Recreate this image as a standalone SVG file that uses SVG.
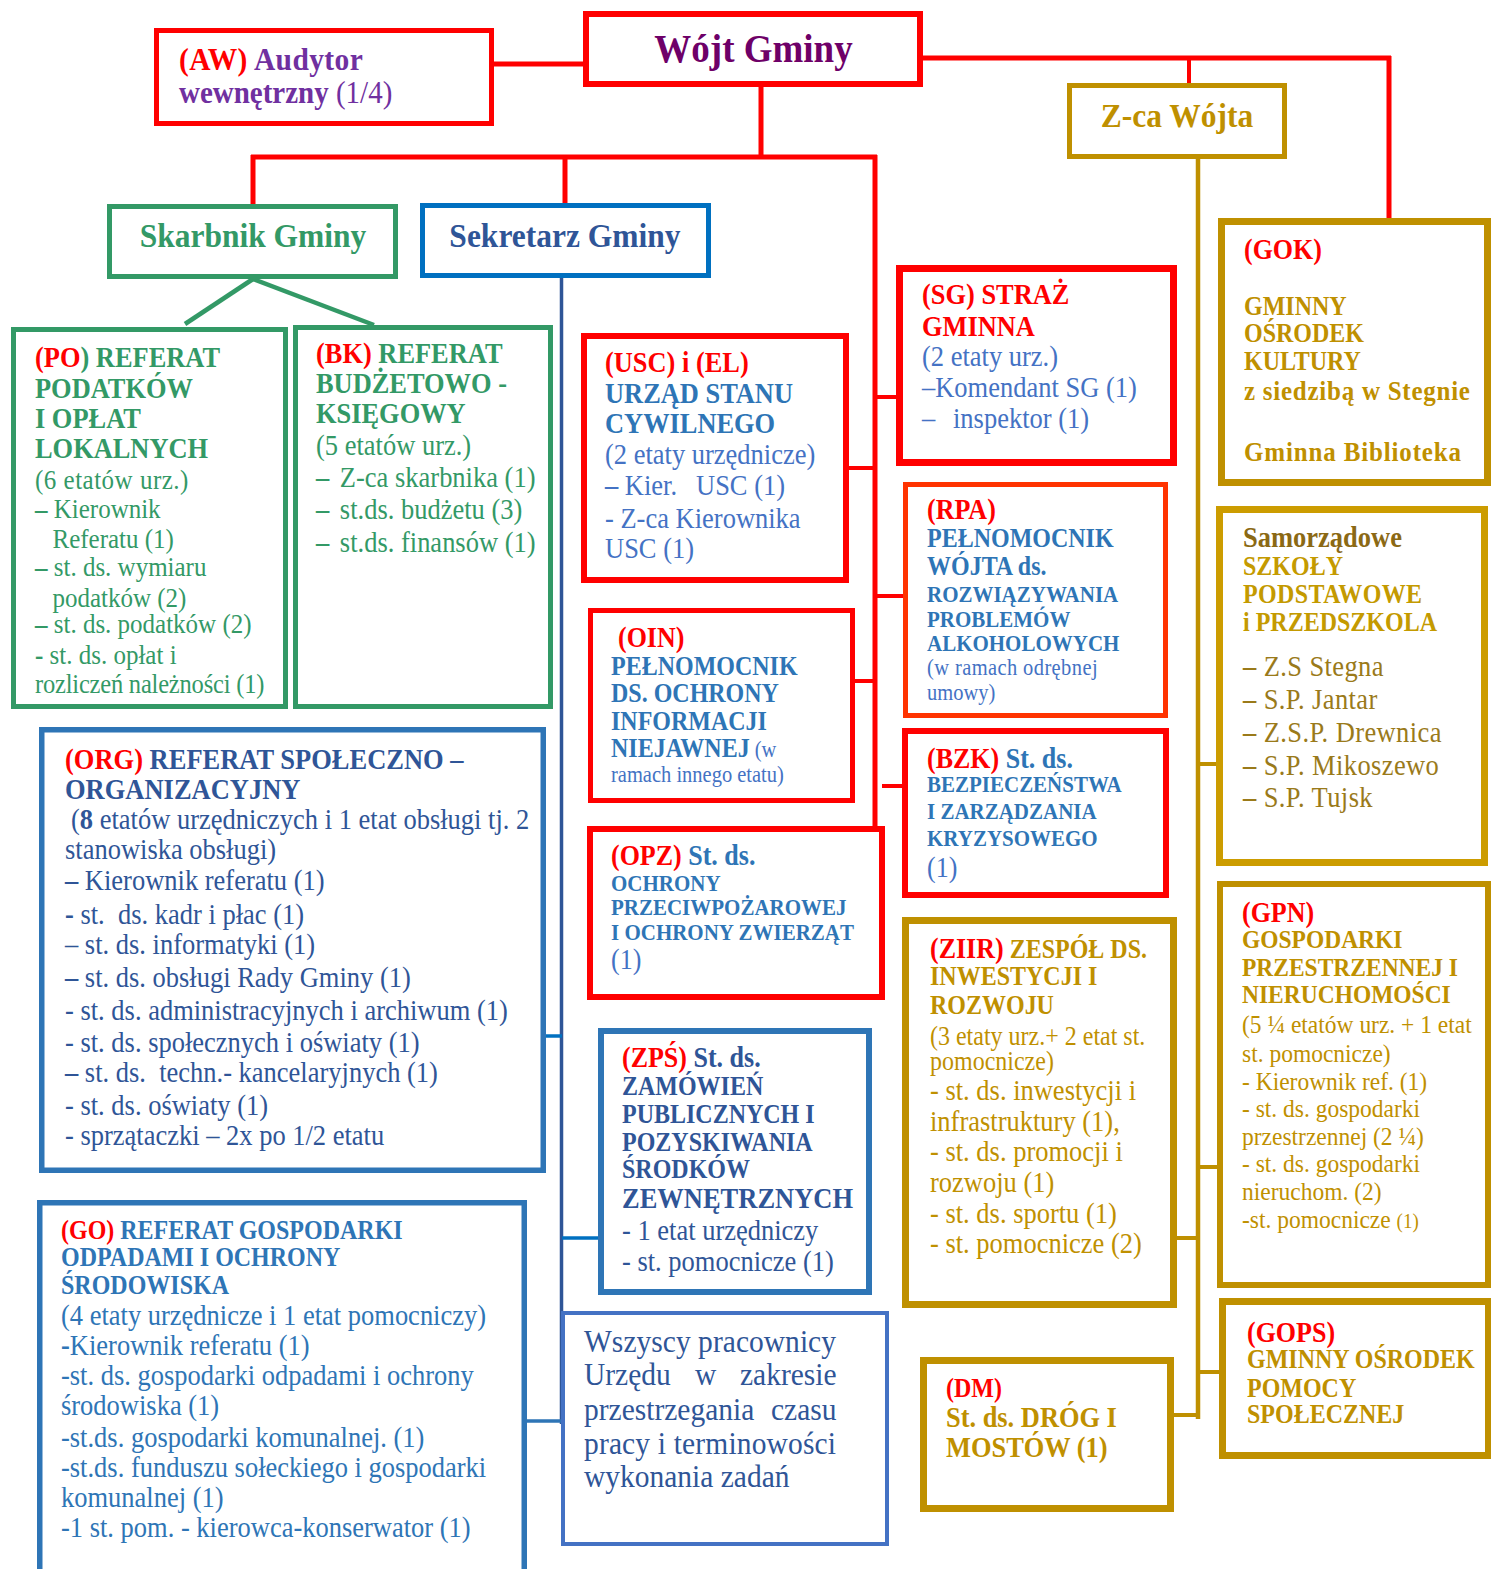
<svg xmlns="http://www.w3.org/2000/svg" width="1491" height="1569" viewBox="0 0 1491 1569">
<style>
text{font-family:"Liberation Serif","Times New Roman",serif;white-space:pre}
.b{font-weight:700}
.n{font-weight:400}
.rd{fill:#FF0000}
.box{fill:#fff}
.kr{stroke:#FF0000}
.kg{stroke:#339966}
.kb{stroke:#2E75B6}
.ky{stroke:#BF9000}
.cn{fill:none;stroke-linecap:butt}
</style>
<rect width="1491" height="1569" fill="#fff"/>
<g id="connectors" class="cn">
<g stroke="#FF0000" stroke-width="5">
<line x1="494" y1="64" x2="584" y2="64"/>
<line x1="922" y1="58" x2="1391" y2="58"/>
<line x1="1389" y1="56" x2="1389" y2="219"/>
<line x1="1189" y1="58" x2="1189" y2="84" stroke-width="4"/>
<line x1="761" y1="86" x2="761" y2="157"/>
<line x1="251" y1="157" x2="877" y2="157"/>
<line x1="253" y1="155" x2="253" y2="205"/>
<line x1="565" y1="157" x2="565" y2="204"/>
<line x1="875" y1="155" x2="875" y2="827"/>
</g>
<g stroke="#FF0000" stroke-width="4">
<line x1="875" y1="397" x2="897" y2="397"/>
<line x1="848" y1="468" x2="875" y2="468"/>
<line x1="875" y1="596" x2="904" y2="596"/>
<line x1="854" y1="681" x2="875" y2="681"/>
<line x1="882" y1="786" x2="903" y2="786"/>
</g>
<g stroke="#339966" stroke-width="4.5">
<line x1="253" y1="279" x2="185" y2="324"/>
<line x1="253" y1="279" x2="374" y2="325"/>
</g>
<line x1="561.5" y1="278" x2="561.5" y2="1424" stroke="#2F5597" stroke-width="3.5"/>
<line x1="545" y1="1036" x2="562" y2="1036" stroke="#0070C0" stroke-width="3.5"/>
<line x1="562" y1="1238" x2="599" y2="1238" stroke="#0070C0" stroke-width="3.5"/>
<line x1="526" y1="1421" x2="562" y2="1421" stroke="#2E75B6" stroke-width="3.5"/>
<g stroke="#BF9000" stroke-width="4.5">
<line x1="1198" y1="152" x2="1198" y2="1419"/>
</g>
<g stroke="#BF9000" stroke-width="4">
<line x1="1198" y1="764" x2="1217" y2="764"/>
<line x1="1198" y1="1167" x2="1218" y2="1167"/>
<line x1="1176" y1="1238" x2="1198" y2="1238"/>
<line x1="1198" y1="1372" x2="1220" y2="1372"/>
<line x1="1173" y1="1415" x2="1198" y2="1415"/>
</g>
</g>

<g id="wojt">
<rect class="box kr" x="586" y="14" width="334" height="70" stroke-width="6"/>
<g transform="scale(1 1.1)"><text class="b" font-size="37" fill="#6E0068" text-anchor="middle" x="753.5" y="56.4">Wójt Gminy</text></g>
</g>

<g id="aw">
<rect class="box kr" x="156.5" y="30.5" width="335" height="93" stroke-width="5"/>
<g transform="scale(1 1.1)" fill="#7030A0">
<text class="b" font-size="29.5" x="179" y="63.6" letter-spacing="0.4"><tspan class="rd">(AW)</tspan> Audytor</text>
<text class="b" font-size="29" x="179" y="93.6">wewnętrzny<tspan class="n"> (1/4)</tspan></text>
</g>
</g>

<g id="zca">
<rect class="box ky" x="1069.5" y="85.5" width="215" height="71" stroke-width="5"/>
<g transform="scale(1 1.1)"><text class="b" font-size="31.5" fill="#BF9000" text-anchor="middle" x="1177" y="115.5">Z-ca Wójta</text></g>
</g>

<g id="skarbnik">
<rect class="box kg" x="109.5" y="206.5" width="286" height="70" stroke-width="5"/>
<g transform="scale(1 1.1)"><text class="b" font-size="31.5" fill="#339966" text-anchor="middle" x="253" y="224.5">Skarbnik Gminy</text></g>
</g>

<g id="sekretarz">
<rect class="box" x="422.5" y="205.5" width="286" height="70" stroke="#0070C0" stroke-width="5"/>
<g transform="scale(1 1.1)"><text class="b" font-size="31.5" fill="#2F5597" text-anchor="middle" x="565" y="224.5">Sekretarz Gminy</text></g>
</g>

<g id="po">
<rect class="box kg" x="13.5" y="329.5" width="272" height="377" stroke-width="5"/>
<g transform="translate(0 1) scale(1 1.1)" fill="#339966">
<text class="b" font-size="26.4" x="35" y="332.7"><tspan class="rd">(PO</tspan>) REFERAT</text>
<text class="b" font-size="26.4" x="35" y="360.9">PODATKÓW</text>
<text class="b" font-size="26.4" x="35" y="388.2">I OPŁAT</text>
<text class="b" font-size="26.4" x="35" y="415.5">LOKALNYCH</text>
<text font-size="25" x="35" y="443.6" letter-spacing="0.5">(6 etatów urz.)</text>
<text font-size="25" x="35" y="470"><tspan class="b">–</tspan> Kierownik</text>
<text font-size="25" x="52.5" y="497.3">Referatu (1)</text>
<text font-size="25" x="35" y="522.7"><tspan class="b">–</tspan> st. ds. wymiaru</text>
<text font-size="25" x="52.5" y="550.9">podatków (2)</text>
<text font-size="25" x="35" y="574.5"><tspan class="b">–</tspan> st. ds. podatków (2)</text>
<text font-size="25" x="35" y="602.7"><tspan class="b">-</tspan> st. ds. opłat i</text>
<text font-size="24.5" x="35" y="629.1" letter-spacing="-0.2">rozliczeń należności (1)</text>
</g>
</g>

<g id="bk">
<rect class="box kg" x="295.5" y="327.5" width="255" height="379" stroke-width="5"/>
<g transform="scale(1 1.1)" fill="#339966">
<text class="b" font-size="26.4" x="316" y="330"><tspan class="rd">(BK)</tspan> REFERAT</text>
<text class="b" font-size="26.4" x="316" y="357.3">BUDŻETOWO -</text>
<text class="b" font-size="26.4" x="316" y="384.5">KSIĘGOWY</text>
<text font-size="26.5" x="316" y="413.6">(5 etatów urz.)</text>
<text font-size="26.5" x="316" y="442.7"><tspan class="b">–</tspan><tspan dx="4"> Z-ca skarbnika (1)</tspan></text>
<text font-size="26.5" x="316" y="471.8"><tspan class="b">–</tspan><tspan dx="4"> st.ds. budżetu (3)</tspan></text>
<text font-size="26.5" x="316" y="501.8"><tspan class="b">–</tspan><tspan dx="4"> st.ds. finansów (1)</tspan></text>
</g>
</g>

<g id="usc">
<rect class="box kr" x="584" y="336" width="262" height="244" stroke-width="6"/>
<g transform="scale(1 1.1)" fill="#4472C4">
<text class="b rd" font-size="26.4" x="605" y="338.2">(USC) i (EL)</text>
<text class="b" font-size="26.4" fill="#2E75B6" x="605" y="366.4">URZĄD STANU</text>
<text class="b" font-size="26.4" fill="#2E75B6" x="605" y="393.6">CYWILNEGO</text>
<text font-size="26.5" x="605" y="421.8">(2 etaty urzędnicze)</text>
<text font-size="26.5" x="605" y="450"><tspan class="b">–</tspan> Kier.<tspan x="696">USC (1)</tspan></text>
<text font-size="26.5" x="605" y="480">- Z-ca Kierownika</text>
<text font-size="26.5" x="605" y="507.3">USC (1)</text>
</g>
</g>

<g id="sg">
<rect class="box kr" x="899.5" y="268.5" width="274" height="194" stroke-width="7"/>
<g transform="scale(1 1.1)" fill="#4472C4">
<text class="b rd" font-size="26.4" x="922" y="276.4">(SG) STRAŻ</text>
<text class="b rd" font-size="26.4" x="922" y="305.5">GMINNA</text>
<text font-size="26.5" x="922" y="332.7">(2 etaty urz.)</text>
<text font-size="26.5" x="922" y="360.9">–Komendant SG (1)</text>
<text font-size="26.5" x="922" y="389.1">–<tspan x="953">inspektor (1)</tspan></text>
</g>
</g>

<g id="rpa">
<rect class="box" x="905.5" y="484.5" width="260" height="231" stroke="#FF3300" stroke-width="5"/>
<g transform="scale(1 1.1)" fill="#2E75B6">
<text class="b rd" font-size="26" x="927" y="471.8">(RPA)</text>
<text class="b" font-size="24" x="927" y="497.3">PEŁNOMOCNIK</text>
<text class="b" font-size="24" x="927" y="522.7">WÓJTA ds.</text>
<text class="b" font-size="21" x="927" y="547.3">ROZWIĄZYWANIA</text>
<text class="b" font-size="21" x="927" y="570">PROBLEMÓW</text>
<text class="b" font-size="21" x="927" y="591.8">ALKOHOLOWYCH</text>
<text font-size="20.5" fill="#4472C4" x="927" y="613.6" letter-spacing="0.4">(w ramach odrębnej</text>
<text font-size="20.5" fill="#4472C4" x="927" y="636.4">umowy)</text>
</g>
</g>

<g id="oin">
<rect class="box kr" x="590.5" y="610.5" width="262" height="190" stroke-width="5"/>
<g transform="scale(1 1.1)" fill="#2E75B6">
<text class="b rd" font-size="26" x="618" y="588.2">(OIN)</text>
<text class="b" font-size="24" x="611" y="613.6">PEŁNOMOCNIK</text>
<text class="b" font-size="24" x="611" y="638.2">DS. OCHRONY</text>
<text class="b" font-size="24" x="611" y="663.6">INFORMACJI</text>
<text class="b" font-size="24" x="611" y="688.2">NIEJAWNEJ<tspan class="n" font-size="20.5" fill="#4472C4"> (w</tspan></text>
<text font-size="20.5" fill="#4472C4" x="611" y="710.9">ramach innego etatu)</text>
</g>
</g>

<g id="bzk">
<rect class="box kr" x="905" y="731" width="261" height="164" stroke-width="6"/>
<g transform="scale(1 1.1)" fill="#2E75B6">
<text class="b" font-size="26" x="927" y="698.2"><tspan class="rd">(BZK)</tspan> St. ds.</text>
<text class="b" font-size="21" x="927" y="720">BEZPIECZEŃSTWA</text>
<text class="b" font-size="21" x="927" y="744.5">I ZARZĄDZANIA</text>
<text class="b" font-size="21" x="927" y="769.1">KRYZYSOWEGO</text>
<text font-size="26" fill="#4472C4" x="927" y="797.3">(1)</text>
</g>
</g>

<g id="opz">
<rect class="box kr" x="590" y="829" width="292" height="168" stroke-width="6"/>
<g transform="scale(1 1.1)" fill="#2E75B6">
<text class="b" font-size="26" x="611" y="786.4"><tspan class="rd">(OPZ)</tspan> St. ds.</text>
<text class="b" font-size="21" x="611" y="810">OCHRONY</text>
<text class="b" font-size="21" x="611" y="831.8">PRZECIWPOŻAROWEJ</text>
<text class="b" font-size="21" x="611" y="854.5">I OCHRONY ZWIERZĄT</text>
<text font-size="26" fill="#4472C4" x="611" y="880.9">(1)</text>
</g>
</g>

<g id="zps">
<rect class="box kb" x="601" y="1031" width="268" height="261" stroke-width="6"/>
<g transform="scale(1 1.1)" fill="#2F5597">
<text class="b" font-size="26" x="622" y="970"><tspan class="rd">(ZPŚ)</tspan> St. ds.</text>
<text class="b" font-size="24" x="622" y="995.5">ZAMÓWIEŃ</text>
<text class="b" font-size="24" x="622" y="1020.9">PUBLICZNYCH I</text>
<text class="b" font-size="24" x="622" y="1046.4">POZYSKIWANIA</text>
<text class="b" font-size="24" x="622" y="1070.9">ŚRODKÓW</text>
<text class="b" font-size="26.5" x="622" y="1098.2">ZEWNĘTRZNYCH</text>
<text font-size="26.5" x="622" y="1127.3">- 1 etat urzędniczy</text>
<text font-size="26.5" x="622" y="1155.5">- st. pomocnicze (1)</text>
</g>
</g>

<g id="ziir">
<rect class="box ky" x="905.5" y="920.5" width="268" height="384" stroke-width="7"/>
<g transform="scale(1 1.1)" fill="#BF9000">
<text class="b" font-size="24" x="930" y="870.9"><tspan class="rd" font-size="26">(ZIIR)</tspan> ZESPÓŁ DS.</text>
<text class="b" font-size="24" x="930" y="895.5">INWESTYCJI I</text>
<text class="b" font-size="24" x="930" y="921.8">ROZWOJU</text>
<text font-size="24" x="930" y="950">(3 etaty urz.+ 2 etat st.</text>
<text font-size="24" x="930" y="972.8">pomocnicze)</text>
<text font-size="26.5" x="930" y="1000">- st. ds. inwestycji i</text>
<text font-size="26.5" x="930" y="1028.2">infrastruktury (1),</text>
<text font-size="26.5" x="930" y="1055.5">- st. ds. promocji i</text>
<text font-size="26.5" x="930" y="1083.7">rozwoju (1)</text>
<text font-size="26.5" x="930" y="1111.8">- st. ds. sportu (1)</text>
<text font-size="26.5" x="930" y="1139.1">- st. pomocnicze (2)</text>
</g>
</g>

<g id="org">
<rect class="box kb" x="41.75" y="729.75" width="501.5" height="440.5" stroke-width="5.5"/>
<g transform="translate(0 2) scale(1 1.1)" fill="#2F5597">
<text class="b" font-size="26.5" x="65" y="697.3"><tspan class="rd">(ORG)</tspan> REFERAT SPOŁECZNO –</text>
<text class="b" font-size="26.5" x="65" y="724.5">ORGANIZACYJNY</text>
<text font-size="26.5" x="71" y="751.8">(<tspan class="b">8</tspan> etatów urzędniczych i 1 etat obsługi tj. 2</text>
<text font-size="26.5" x="65" y="779.1">stanowiska obsługi)</text>
<text font-size="26.5" x="65" y="807.3"><tspan class="b">–</tspan> Kierownik referatu (1)</text>
<text font-size="26.5" x="65" y="838.2"><tspan class="b">-</tspan> st.  ds. kadr i płac (1)</text>
<text font-size="26.5" x="65" y="865.5">– st. ds. informatyki (1)</text>
<text font-size="26.5" x="65" y="895.5"><tspan class="b">–</tspan> st. ds. obsługi Rady Gminy (1)</text>
<text font-size="26.5" x="65" y="925.5">- st. ds. administracyjnych i archiwum (1)</text>
<text font-size="26.5" x="65" y="954.5">- st. ds. społecznych i oświaty (1)</text>
<text font-size="26.5" x="65" y="981.8"><tspan class="b">–</tspan> st. ds.  techn.- kancelaryjnych (1)</text>
<text font-size="26.5" x="65" y="1011.8">- st. ds. oświaty (1)</text>
<text font-size="26.5" x="65" y="1039.1">- sprzątaczki – 2x po 1/2 etatu</text>
</g>
</g>

<g id="go">
<rect class="box kb" x="39.75" y="1202.75" width="484.5" height="380" stroke-width="5.5"/>
<g transform="translate(0 2) scale(1 1.1)" fill="#2E75B6">
<text class="b" font-size="24" x="61" y="1124.5"><tspan class="rd">(GO)</tspan> REFERAT GOSPODARKI</text>
<text class="b" font-size="24" x="61" y="1149.1">ODPADAMI I OCHRONY</text>
<text class="b" font-size="24" x="61" y="1174.5">ŚRODOWISKA</text>
<text font-size="26.5" x="61" y="1202.7">(4 etaty urzędnicze i 1 etat pomocniczy)</text>
<text font-size="26.5" x="61" y="1230"><tspan class="b">-</tspan>Kierownik referatu (1)</text>
<text font-size="26.5" x="61" y="1257.3">-st. ds. gospodarki odpadami i ochrony</text>
<text font-size="26.5" x="61" y="1284.5">środowiska (1)</text>
<text font-size="26.5" x="61" y="1313.6">-st.ds. gospodarki komunalnej. (1)</text>
<text font-size="26.5" x="61" y="1340.9">-st.ds. funduszu sołeckiego i gospodarki</text>
<text font-size="26.5" x="61" y="1368.2">komunalnej (1)</text>
<text font-size="26.5" x="61" y="1395.5">-1 st. pom. - kierowca-konserwator (1)</text>
</g>
</g>

<g id="wszyscy">
<rect class="box" x="563" y="1313" width="324" height="231" stroke="#4472C4" stroke-width="4"/>
<g transform="translate(0 2) scale(1 1.1)" fill="#2F5597" font-size="29.5">
<text x="584" y="1227.3" textLength="252" lengthAdjust="spacing">Wszyscy pracownicy</text>
<text x="584" y="1257.3">Urzędu<tspan x="695">w</tspan><tspan x="740">zakresie</tspan></text>
<text x="584" y="1289.1">przestrzegania<tspan x="771">czasu</tspan></text>
<text x="584" y="1320" textLength="252" lengthAdjust="spacing">pracy i terminowości</text>
<text x="584" y="1350">wykonania zadań</text>
</g>
</g>

<g id="dm">
<rect class="box ky" x="923.5" y="1360.5" width="247" height="148" stroke-width="7"/>
<g transform="scale(1 1.1)" fill="#BF9000">
<text class="b rd" font-size="24" x="946" y="1270">(DM)</text>
<text class="b" font-size="26.4" x="946" y="1297.3">St. ds. DRÓG I</text>
<text class="b" font-size="26.4" x="946" y="1324.5">MOSTÓW (1)</text>
</g>
</g>

<g id="gok">
<rect class="box ky" x="1221.5" y="221.5" width="266" height="261" stroke-width="7"/>
<g transform="scale(1 1.1)" fill="#BF9000">
<text class="b rd" font-size="26" x="1244" y="235.5">(GOK)</text>
<text class="b" font-size="24" x="1244" y="286.4">GMINNY</text>
<text class="b" font-size="24" x="1244" y="310.9">OŚRODEK</text>
<text class="b" font-size="24" x="1244" y="336.4">KULTURY</text>
<text class="b" font-size="25" x="1244" y="363.6" letter-spacing="0.75">z siedzibą w Stegnie</text>
<text class="b" font-size="25" x="1244" y="419.1" letter-spacing="0.85">Gminna Biblioteka</text>
</g>
</g>

<g id="szkoly">
<rect class="box" x="1219.5" y="509.5" width="265" height="353" stroke="#CC9C00" stroke-width="7"/>
<g transform="scale(1 1.1)" fill="#C49A00">
<text class="b" font-size="26.5" fill="#8B6914" x="1243" y="497.3">Samorządowe</text>
<text class="b" font-size="24" x="1243" y="522.7">SZKOŁY</text>
<text class="b" font-size="24" x="1243" y="548.2" letter-spacing="0.4">PODSTAWOWE</text>
<text class="b" font-size="24" x="1243" y="573.6">i PRZEDSZKOLA</text>
<text font-size="26.5" fill="#9A7A1A" x="1243" y="614.5" letter-spacing="0.4"><tspan class="b">–</tspan> Z.S Stegna</text>
<text font-size="26.5" fill="#9A7A1A" x="1243" y="644.5" letter-spacing="0.4"><tspan class="b">–</tspan> S.P. Jantar</text>
<text font-size="26.5" fill="#9A7A1A" x="1243" y="674.5" letter-spacing="0.4"><tspan class="b">–</tspan> Z.S.P. Drewnica</text>
<text font-size="26.5" fill="#9A7A1A" x="1243" y="704.5" letter-spacing="0.4"><tspan class="b">–</tspan> S.P. Mikoszewo</text>
<text font-size="26.5" fill="#9A7A1A" x="1243" y="733.6" letter-spacing="0.4"><tspan class="b">–</tspan> S.P. Tujsk</text>
</g>
</g>

<g id="gpn">
<rect class="box ky" x="1220" y="884" width="268" height="401" stroke-width="6"/>
<g transform="scale(1 1.1)" fill="#BF9000">
<text class="b rd" font-size="26" x="1242" y="838.2">(GPN)</text>
<text class="b" font-size="23.5" x="1242" y="861.8">GOSPODARKI</text>
<text class="b" font-size="23.5" x="1242" y="887.3">PRZESTRZENNEJ I</text>
<text class="b" font-size="23.5" x="1242" y="911.8">NIERUCHOMOŚCI</text>
<text font-size="23.5" x="1242" y="939.1">(5 ¼ etatów urz. + 1 etat</text>
<text font-size="23.5" x="1242" y="965.5">st. pomocnicze)</text>
<text font-size="23.5" x="1242" y="990.9">- Kierownik ref. (1)</text>
<text font-size="23.5" x="1242" y="1015.5">- st. ds. gospodarki</text>
<text font-size="23.5" x="1242" y="1040.9">przestrzennej (2 ¼)</text>
<text font-size="23.5" x="1242" y="1065.5">- st. ds. gospodarki</text>
<text font-size="23.5" x="1242" y="1090.9">nieruchom. (2)</text>
<text font-size="23.5" x="1242" y="1116.4">-st. pomocnicze <tspan font-size="19">(1)</tspan></text>
</g>
</g>

<g id="gops">
<rect class="box ky" x="1222.5" y="1301.5" width="266" height="154" stroke-width="7"/>
<g transform="scale(1 1.1)" fill="#BF9000">
<text class="b rd" font-size="26" x="1247" y="1220">(GOPS)</text>
<text class="b" font-size="24" x="1247" y="1243.6">GMINNY OŚRODEK</text>
<text class="b" font-size="24" x="1247" y="1270">POMOCY</text>
<text class="b" font-size="24" x="1247" y="1293.6">SPOŁECZNEJ</text>
</g>
</g>
</svg>
